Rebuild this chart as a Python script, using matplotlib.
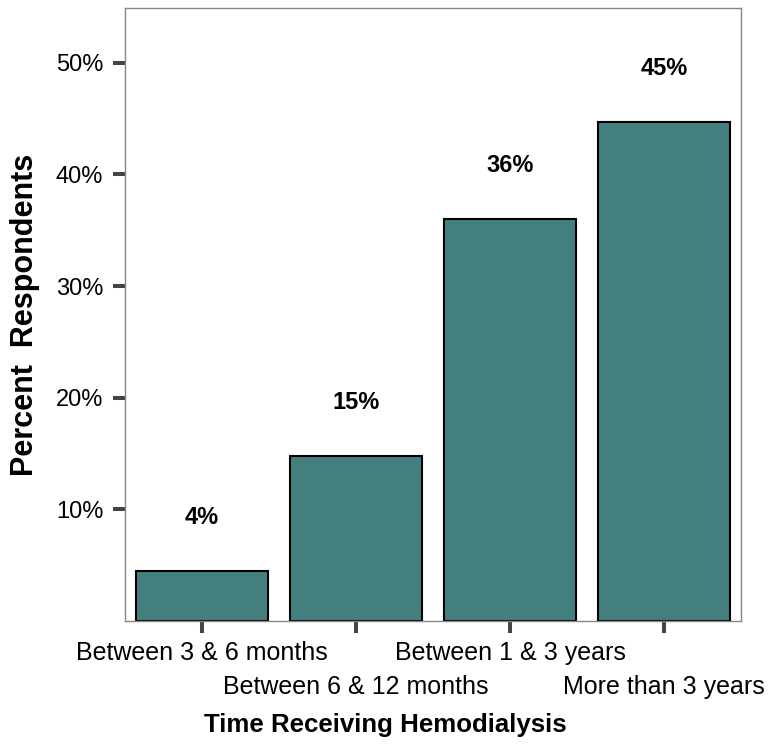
import matplotlib
matplotlib.use("Agg")
import matplotlib.pyplot as plt

categories = ["Between 3 & 6 months", "Between 6 & 12 months", "Between 1 & 3 years", "More than 3 years"]
values = [4.5, 14.8, 36.0, 44.7]
labels = ["4%", "15%", "36%", "45%"]
yticks = [10, 20, 30, 40, 50]
ytick_labels = ["10%", "20%", "30%", "40%", "50%"]

plt.rcParams['font.family'] = ['Liberation Sans', 'DejaVu Sans']

fig = plt.figure(figsize=(7.7, 7.44), dpi=100)
ax = fig.add_axes([125/770, 1-621/744, (741-125)/770, (621-8)/744])

x = list(range(len(categories)))
ax.bar(x, values, width=0.86, color='#447F7F', edgecolor='black', linewidth=1.5)
for xi, v, lab in zip(x, values, labels):
    ax.text(xi, v + 4.8, lab, ha='center', va='center', fontsize=17, fontweight='bold')

ax.set_xlim(-0.5, 3.5)
ax.set_ylim(0, 54.9)
ax.set_yticks(yticks)
ax.set_yticklabels(ytick_labels, fontsize=17)
ax.set_xticks(x)
ax.set_xticklabels(categories, fontsize=18)
ax.tick_params(axis='both', length=8.6, width=2.9, color='#444444')
ax.tick_params(axis='y', pad=7)
for i, t in enumerate(ax.xaxis.get_major_ticks()):
    t.set_pad(6 if i % 2 == 0 else 30)
for s in ax.spines.values():
    s.set_color('#888888')
    s.set_linewidth(1.0)

ax.set_ylabel("Percent  Respondents", fontsize=22, fontweight='bold')
ax.yaxis.set_label_coords((40 - 125) / 616, 0.5)
ax.set_xlabel("Time Receiving Hemodialysis", fontsize=18.6, fontweight='bold')
ax.xaxis.set_label_coords((385 - 125) / 616, -0.150)

fig.savefig("out.png", dpi=100)
